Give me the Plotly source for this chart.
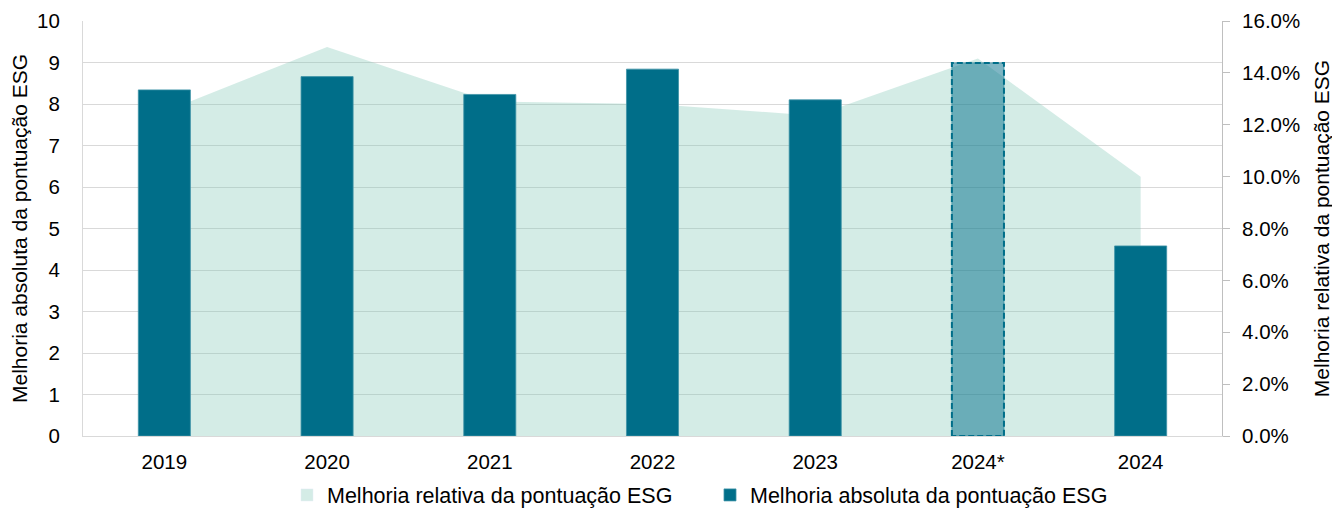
import plotly.graph_objects as go

# Data
years = ["2019", "2020", "2021", "2022", "2023", "2024*", "2024"]
absolute_gain = [8.34, 8.66, 8.23, 8.84, 8.10, 8.99, 4.58]          # left axis (points)
relative_gain = [12.5, 15.0, 12.9, 12.8, 12.35, 14.55, 10.0]         # right axis (%)
estimate_idx = years.index("2024*")

BAR_COLOR = '#006E89'
BAR_EST_COLOR = 'rgba(0,110,137,0.5)'
AREA_FILL = 'rgba(132,201,184,0.35)'
AREA_LEGEND = '#D4ECE6'
GRID = '#D9D9D9'
FONT = 'Liberation Sans, Arial, sans-serif'
BAR_W = 0.32

xpos = list(range(len(years)))

fig = go.Figure()

# Relative improvement area (right axis -> yaxis, drawn underneath)
fig.add_trace(go.Scatter(
    x=xpos, y=relative_gain,
    mode='none', fill='tozeroy', fillcolor=AREA_FILL,
    yaxis='y', showlegend=False,
    hovertemplate='%{y:.1f}%<extra></extra>',
))

# Dummy entry so the area gets a square legend swatch
fig.add_trace(go.Bar(
    x=[None], y=[None], name='Melhoria relativa da pontuação ESG',
    marker=dict(color=AREA_LEGEND), yaxis='y2',
))

# Absolute improvement bars (left axis -> yaxis2, on top)
bar_colors = [BAR_EST_COLOR if i == estimate_idx else BAR_COLOR for i in xpos]
fig.add_trace(go.Bar(
    x=xpos, y=absolute_gain, width=BAR_W,
    name='Melhoria absoluta da pontuação ESG',
    marker=dict(color=bar_colors, line=dict(color='#3F93A7', width=0.8)),
    yaxis='y2',
    hovertemplate='%{y:.2f}<extra></extra>',
))

# Dashed outline around the 2024* estimate bar
ex, ev = xpos[estimate_idx], absolute_gain[estimate_idx]
fig.add_trace(go.Scatter(
    x=[ex - BAR_W / 2, ex - BAR_W / 2, ex + BAR_W / 2, ex + BAR_W / 2, ex - BAR_W / 2],
    y=[0, ev, ev, 0, 0],
    mode='lines', line=dict(color=BAR_COLOR, width=2, dash='6px,3px'),
    yaxis='y2', showlegend=False, hoverinfo='skip',
))

# page body keeps its default 8px margin, so the figure is 16px smaller than the window
fig.update_layout(
    width=1332, height=500,
    barmode='overlay',
    paper_bgcolor='white', plot_bgcolor='white',
    font=dict(family=FONT, size=20.5, color='#000000'),
    margin=dict(l=75, r=118, t=13, b=72, autoexpand=False),
    xaxis=dict(
        range=[-0.5, len(years) - 0.5],
        tickvals=xpos, ticktext=years,
        showgrid=False, zeroline=False,
        showline=True, linecolor=GRID, linewidth=1,
        ticks='', ticklabelstandoff=7, automargin=False,
    ),
    yaxis=dict(
        side='right', range=[0, 16], dtick=2,
        tickformat='.1f', ticksuffix='%',
        showgrid=False, zeroline=False,
        showline=True, linecolor='#BFBFBF', linewidth=1,
        ticks='outside', ticklen=7, tickcolor='#BFBFBF',
        ticklabelstandoff=8, automargin=False,
        title=dict(text='Melhoria relativa da pontuação ESG', font=dict(size=21), standoff=15),
    ),
    yaxis2=dict(
        overlaying='y', side='left', range=[0, 10], dtick=1,
        showgrid=True, gridcolor=GRID, gridwidth=1,
        zeroline=False,
        showline=True, linecolor=GRID, linewidth=1,
        ticks='', ticklabelstandoff=18, automargin=False,
        title=dict(text='Melhoria absoluta da pontuação ESG', font=dict(size=21), standoff=9),
    ),
    legend=dict(
        orientation='h', x=(287 - 83) / 1139, xanchor='left',
        y=-0.142, yanchor='middle',
        font=dict(size=21.5), traceorder='normal',
        entrywidth=378, entrywidthmode='pixels',
        bgcolor='rgba(0,0,0,0)',
    ),
    showlegend=True,
)

fig.write_html("out.html")
